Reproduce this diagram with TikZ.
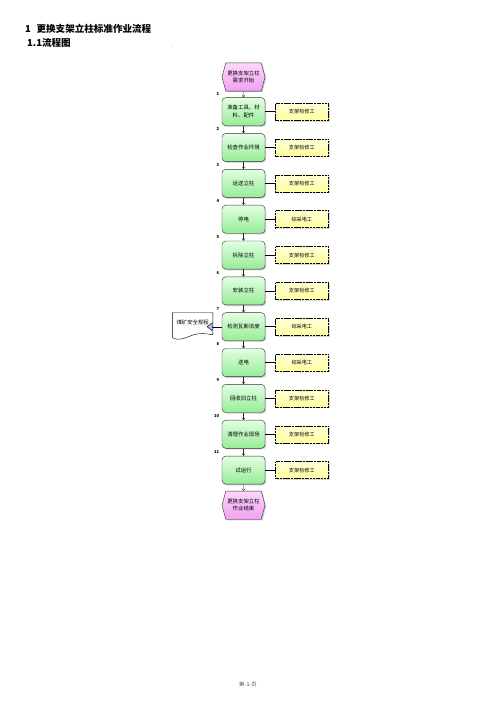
\documentclass[tikz,border=0pt]{standalone}
\usepackage{fontspec}
\setmainfont{Noto Sans CJK SC}
\usepackage{tikz}
\usetikzlibrary{positioning,shapes.symbols,shadows,arrows.meta,calc}

\definecolor{gTop}{RGB}{226,255,226}
\definecolor{gBot}{RGB}{150,236,150}
\definecolor{pTop}{RGB}{255,214,255}
\definecolor{pBot}{RGB}{240,160,240}
\definecolor{yTop}{RGB}{255,255,215}
\definecolor{yBot}{RGB}{255,255,160}
\definecolor{lav}{RGB}{185,185,240}

\begin{document}
\begin{tikzpicture}[x=0.4234mm, y=-0.4234mm,
	func/.style={draw=black!80, line width=0.5pt, rounded corners=1.6mm,
		top color=gTop, bottom color=gBot, minimum width=18.2mm, minimum height=11.9mm,
		align=center, inner sep=0.5mm, font=\fontsize{6.5}{9}\selectfont,
		drop shadow={shadow xshift=0.5mm, shadow yshift=-0.5mm, fill=black!40}},
	hexa/.style={signal, signal to=east and west, signal pointer angle=150,
		draw=black!80, line width=0.5pt, top color=pTop, bottom color=pBot,
		minimum width=18.2mm, minimum height=11.9mm, inner sep=0.2mm,
		align=center, font=\fontsize{6.5}{8.5}\selectfont,
		drop shadow={shadow xshift=0.5mm, shadow yshift=-0.5mm, fill=black!40}},
	role/.style={draw=black, line width=0.6pt,
		dash pattern=on 1.5pt off 0.7pt on 0.4pt off 0.7pt,
		top color=yTop, bottom color=yBot, minimum width=22.4mm, minimum height=7.2mm,
		font=\fontsize{6.2}{7}\selectfont,
		drop shadow={shadow xshift=0.6mm, shadow yshift=-0.6mm, fill=black!30}},
	num/.style={font=\fontsize{5}{5}\selectfont\bfseries, inner sep=0pt},
	flow/.style={-{Straight Barb[length=0.9mm,width=1.4mm]}, line width=0.4pt, black!85},
	link/.style={line width=0.9pt},
	]
	\useasboundingbox (0,0) rectangle (496,702);

	%% title
	\node[anchor=west, inner sep=0pt, font=\fontsize{11.5}{13}\selectfont\bfseries]
		(t1) at (25,29) {1\hspace{2.4mm}更换支架立柱标准作业流程};
	\node[anchor=west, inner sep=0pt, font=\fontsize{11.5}{13}\selectfont\bfseries]
		(t2) at (27,43) {1.1流程图};
	\node[inner sep=0pt, font=\tiny] (dot) at (173,48) {.};

	%% flow
	\node[hexa] (f0) at (243.5,77) {更换支架立柱\\需求开始};
	\node[func, below=2.6mm of f0] (f1) {准备工具、材\\料、配件};
	\node[func, below=3.1mm of f1] (f2) {检查作业环境};
	\node[func, below=3.1mm of f2] (f3) {运送立柱};
	\node[func, below=3.1mm of f3] (f4) {停电};
	\node[func, below=3.1mm of f4] (f5) {拆除立柱};
	\node[func, below=3.1mm of f5] (f6) {安装立柱};
	\node[func, below=3.1mm of f6] (f7) {检测瓦斯浓度};
	\node[func, below=3.1mm of f7] (f8) {送电};
	\node[func, below=3.1mm of f8] (f9) {回收旧立柱};
	\node[func, below=3.1mm of f9] (f10) {清理作业现场};
	\node[func, below=3.1mm of f10] (f11) {试运行};
	\node[hexa, below=2.8mm of f11] (f12) {更换支架立柱\\作业结束};

	%% step numbers
	\node[num, above left=0.9mm and 1mm of f1.north west] {1};
	\node[num, above left=0.9mm and 1mm of f2.north west] {2};
	\node[num, above left=0.9mm and 1mm of f3.north west] {3};
	\node[num, above left=0.9mm and 1mm of f4.north west] {4};
	\node[num, above left=0.9mm and 1mm of f5.north west] {5};
	\node[num, above left=0.9mm and 1mm of f6.north west] {6};
	\node[num, above left=0.9mm and 1mm of f7.north west] {7};
	\node[num, above left=0.9mm and 1mm of f8.north west] {8};
	\node[num, above left=0.9mm and 1mm of f9.north west] {9};
	\node[num, above left=0.9mm and 1mm of f10.north west] {10};
	\node[num, above left=0.9mm and 1mm of f11.north west] {11};

	%% roles
	\node[role, right=4.2mm of f1] (w1) {支架检修工};
	\node[role, right=4.2mm of f2] (w2) {支架检修工};
	\node[role, right=4.2mm of f3] (w3) {支架检修工};
	\node[role, right=4.2mm of f4] (w4) {综采电工};
	\node[role, right=4.2mm of f5] (w5) {支架检修工};
	\node[role, right=4.2mm of f6] (w6) {支架检修工};
	\node[role, right=4.2mm of f7] (w7) {综采电工};
	\node[role, right=4.2mm of f8] (w8) {综采电工};
	\node[role, right=4.2mm of f9] (w9) {支架检修工};
	\node[role, right=4.2mm of f10] (w10) {支架检修工};
	\node[role, right=4.2mm of f11] (w11) {支架检修工};

	%% document
	\node[inner sep=0pt, minimum width=16.9mm, minimum height=9.3mm,
		font=\fontsize{6.5}{8}\selectfont, left=3.8mm of f7.north west, anchor=north east]
		(d1) {煤矿安全规程};
	\draw[line width=0.5pt, fill=white] (d1.north west) -- (d1.north east) -- (d1.south east)
		.. controls ($(d1.south east)+(-6,-1)$) and ($(d1.south east)+(-12,-2)$) .. ($(d1.south)+(1,0)$)
		.. controls ($(d1.south west)+(14,2)$) and ($(d1.south west)+(8,7)$) .. ($(d1.south west)+(0,3)$)
		-- cycle;
	\node[inner sep=0pt, font=\fontsize{6.5}{8}\selectfont] at ($(d1.center)+(0,-1)$) {煤矿安全规程};
	\coordinate (din) at ($(d1.east)+(-6,0)$);

	%% connectors
	\draw[flow] (f0) -- (f1);
	\draw[flow] (f1) -- (f2);
	\draw[flow] (f2) -- (f3);
	\draw[flow] (f3) -- (f4);
	\draw[flow] (f4) -- (f5);
	\draw[flow] (f5) -- (f6);
	\draw[flow] (f6) -- (f7);
	\draw[flow] (f7) -- (f8);
	\draw[flow] (f8) -- (f9);
	\draw[flow] (f9) -- (f10);
	\draw[flow] (f10) -- (f11);
	\draw[flow] (f11) -- (f12);
	\draw[line width=0.5pt, -{Triangle[length=2.4mm, width=3.8mm, fill=lav]}]
		(f7.west) -- (f7.west -| din);

	\draw[link] (f1) -- (w1);
	\draw[link] (f2) -- (w2);
	\draw[link] (f3) -- (w3);
	\draw[link] (f4) -- (w4);
	\draw[link] (f5) -- (w5);
	\draw[link] (f6) -- (w6);
	\draw[link] (f7) -- (w7);
	\draw[link] (f8) -- (w8);
	\draw[link] (f9) -- (w9);
	\draw[link] (f10) -- (w10);
	\draw[link] (f11) -- (w11);

	%% footer
	\node[font=\fontsize{6.5}{8}\selectfont, text=black!70] (pg) at (248,684) {第-1-页};
\end{tikzpicture}
\end{document}
